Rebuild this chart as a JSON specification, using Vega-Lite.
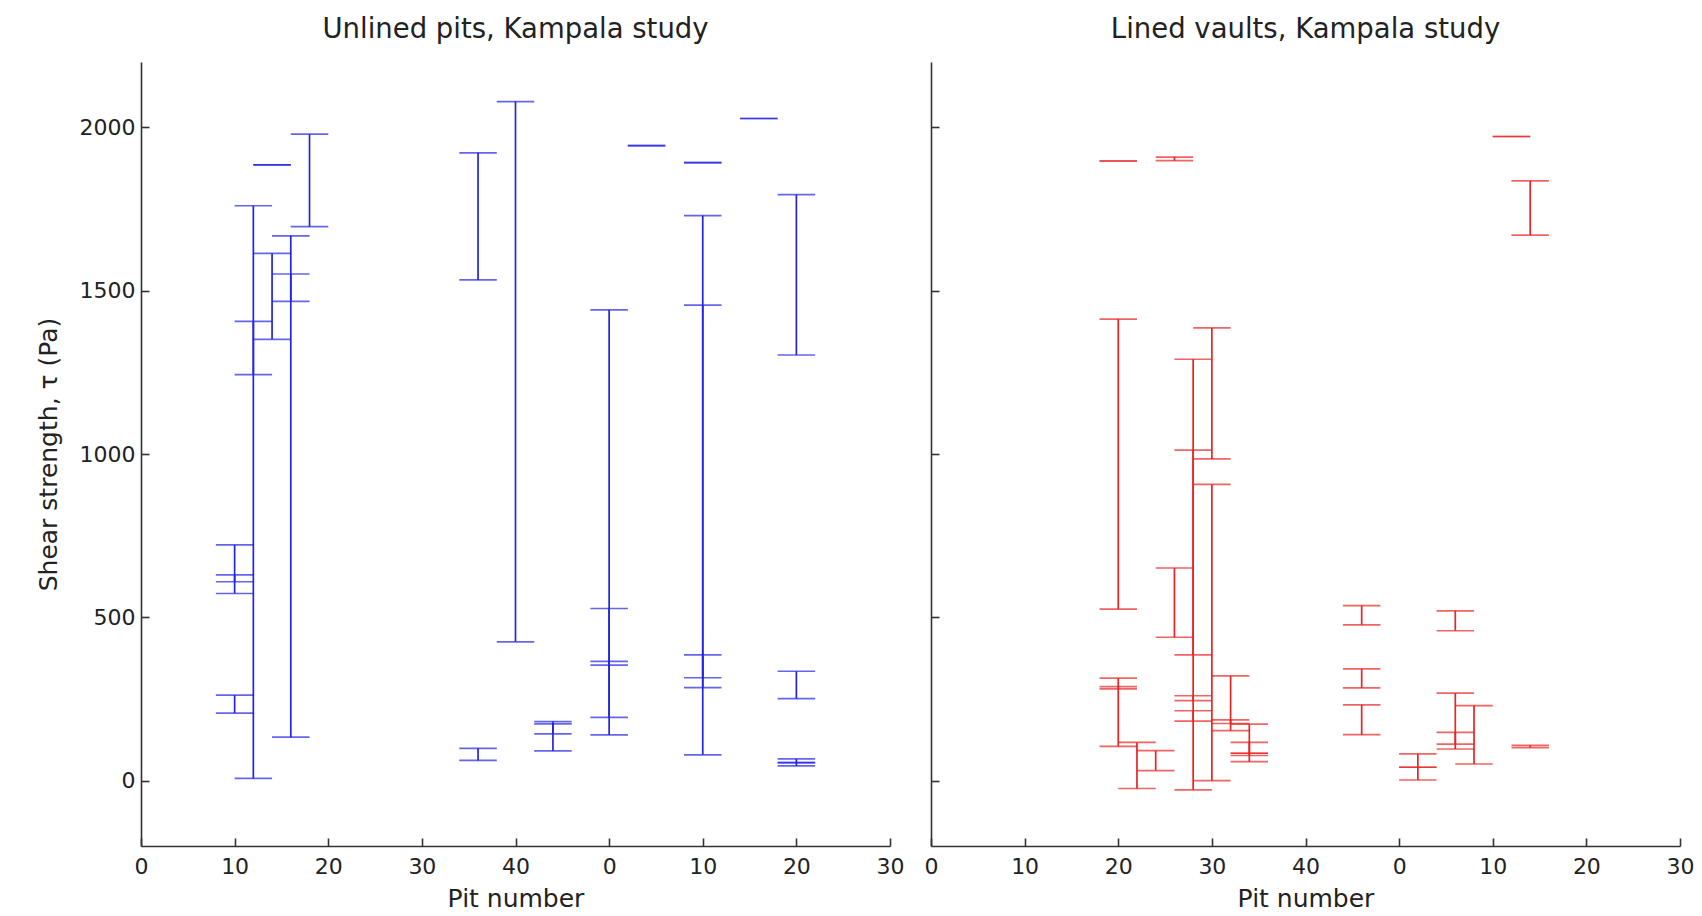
{
  "$schema": "https://vega.github.io/schema/vega-lite/v6.json",
  "autosize": {"type": "pad"},
  "padding": {"left": 36, "top": 15, "right": 10, "bottom": 0},
  "background": "white",
  "spacing": 41,
  "bounds": "flush",
  "config": {
    "view": {"stroke": null},
    "font": "DejaVu Sans",
    "axis": {
      "grid": false,
      "domainColor": "#333333",
      "domainWidth": 1.6,
      "tickColor": "#333333",
      "tickWidth": 1.6,
      "tickSize": -8,
      "labelColor": "#222222",
      "labelFont": "DejaVu Sans",
      "labelFontSize": 22,
      "titleFont": "DejaVu Sans",
      "titleFontSize": 25,
      "titleFontWeight": "normal",
      "titleColor": "#222222"
    },
    "title": {"font": "DejaVu Sans", "fontSize": 27.5, "fontWeight": "normal", "color": "#222222", "offset": 19}
  },
  "data": {
    "values": [
      {"panel": "U", "x": 10, "lo": 573, "hi": 722},
      {"panel": "U", "x": 10, "lo": 609, "hi": 630},
      {"panel": "U", "x": 10, "lo": 207, "hi": 262},
      {"panel": "U", "x": 12, "lo": 7, "hi": 1760},
      {"panel": "U", "x": 12, "lo": 1243, "hi": 1406},
      {"panel": "U", "x": 14, "lo": 1885, "hi": 1885},
      {"panel": "U", "x": 14, "lo": 1351, "hi": 1614},
      {"panel": "U", "x": 16, "lo": 133, "hi": 1668},
      {"panel": "U", "x": 16, "lo": 1467, "hi": 1551},
      {"panel": "U", "x": 18, "lo": 1696, "hi": 1979},
      {"panel": "U", "x": 36, "lo": 1533, "hi": 1922},
      {"panel": "U", "x": 36, "lo": 62, "hi": 99},
      {"panel": "U", "x": 40, "lo": 425, "hi": 2079},
      {"panel": "U", "x": 44, "lo": 91, "hi": 181},
      {"panel": "U", "x": 44, "lo": 143, "hi": 174},
      {"panel": "U", "x": 50, "lo": 140, "hi": 1441},
      {"panel": "U", "x": 50, "lo": 354, "hi": 527},
      {"panel": "U", "x": 50, "lo": 194, "hi": 365},
      {"panel": "U", "x": 54, "lo": 1944, "hi": 1944},
      {"panel": "U", "x": 60, "lo": 1892, "hi": 1892},
      {"panel": "U", "x": 60, "lo": 79, "hi": 1730},
      {"panel": "U", "x": 60, "lo": 285, "hi": 1456},
      {"panel": "U", "x": 60, "lo": 315, "hi": 385},
      {"panel": "U", "x": 66, "lo": 2027, "hi": 2027},
      {"panel": "U", "x": 70, "lo": 1303, "hi": 1794},
      {"panel": "U", "x": 70, "lo": 251, "hi": 335},
      {"panel": "U", "x": 70, "lo": 45, "hi": 67},
      {"panel": "U", "x": 70, "lo": 55, "hi": 55},
      {"panel": "L", "x": 20, "lo": 1897, "hi": 1897},
      {"panel": "L", "x": 20, "lo": 525, "hi": 1413},
      {"panel": "L", "x": 20, "lo": 105, "hi": 314},
      {"panel": "L", "x": 20, "lo": 281, "hi": 288},
      {"panel": "L", "x": 22, "lo": -24, "hi": 117},
      {"panel": "L", "x": 24, "lo": 31, "hi": 92},
      {"panel": "L", "x": 26, "lo": 1898, "hi": 1909},
      {"panel": "L", "x": 26, "lo": 439, "hi": 651},
      {"panel": "L", "x": 28, "lo": -28, "hi": 1290},
      {"panel": "L", "x": 28, "lo": 385, "hi": 1012},
      {"panel": "L", "x": 28, "lo": 245, "hi": 260},
      {"panel": "L", "x": 28, "lo": 182, "hi": 214},
      {"panel": "L", "x": 30, "lo": 985, "hi": 1386},
      {"panel": "L", "x": 30, "lo": 0, "hi": 907},
      {"panel": "L", "x": 32, "lo": 175, "hi": 321},
      {"panel": "L", "x": 32, "lo": 153, "hi": 186},
      {"panel": "L", "x": 34, "lo": 58, "hi": 173},
      {"panel": "L", "x": 34, "lo": 77, "hi": 117},
      {"panel": "L", "x": 34, "lo": 84, "hi": 84},
      {"panel": "L", "x": 46, "lo": 477, "hi": 536},
      {"panel": "L", "x": 46, "lo": 284, "hi": 342},
      {"panel": "L", "x": 46, "lo": 141, "hi": 232},
      {"panel": "L", "x": 52, "lo": 2, "hi": 82},
      {"panel": "L", "x": 52, "lo": 41, "hi": 41},
      {"panel": "L", "x": 56, "lo": 459, "hi": 520},
      {"panel": "L", "x": 56, "lo": 97, "hi": 268},
      {"panel": "L", "x": 56, "lo": 112, "hi": 148},
      {"panel": "L", "x": 58, "lo": 51, "hi": 230},
      {"panel": "L", "x": 62, "lo": 1972, "hi": 1972},
      {"panel": "L", "x": 64, "lo": 1670, "hi": 1836},
      {"panel": "L", "x": 64, "lo": 101, "hi": 108}
    ]
  },
  "hconcat": [
    {
      "width": 749,
      "height": 784,
      "title": {"text": "Unlined pits, Kampala study"},
      "transform": [{"filter": "datum.panel == 'U'"}],
      "encoding": {
        "x": {
          "field": "x", "type": "quantitative",
          "scale": {"domain": [0, 80], "nice": false, "zero": false},
          "axis": {"values": [0, 10, 20, 30, 40, 50, 60, 70, 80], "labelExpr": "'' + (datum.value >= 50 ? datum.value - 50 : datum.value)", "labelPadding": 18, "title": "Pit number", "titlePadding": 9, "labelFlush": false}
        }
      },
      "layer": [
        {
          "mark": {"type": "rule", "color": "#2424e2", "strokeWidth": 1.7},
          "encoding": {
            "y": {"field": "lo", "type": "quantitative", "scale": {"domain": [-200, 2200], "nice": false, "zero": false},
              "axis": {"values": [0, 500, 1000, 1500, 2000], "format": "d", "title": "Shear strength, τ (Pa)", "labelPadding": 14, "titlePadding": 18}},
            "y2": {"field": "hi"}
          }
        },
        {
          "mark": {"type": "tick", "orient": "horizontal", "size": 37.5, "thickness": 1.7, "color": "#2424e2"},
          "encoding": {
            "y": {"field": "lo", "type": "quantitative", "axis": {"values": [0, 500, 1000, 1500, 2000], "format": "d", "title": "Shear strength, τ (Pa)", "labelPadding": 14, "titlePadding": 18}}
          }
        },
        {
          "mark": {"type": "tick", "orient": "horizontal", "size": 37.5, "thickness": 1.7, "color": "#2424e2"},
          "encoding": {
            "y": {"field": "hi", "type": "quantitative", "axis": {"values": [0, 500, 1000, 1500, 2000], "format": "d", "title": "Shear strength, τ (Pa)", "labelPadding": 14, "titlePadding": 18}}
          }
        }
      ]
    },
    {
      "width": 749,
      "height": 784,
      "title": {"text": "Lined vaults, Kampala study"},
      "transform": [{"filter": "datum.panel == 'L'"}],
      "encoding": {
        "x": {
          "field": "x", "type": "quantitative",
          "scale": {"domain": [0, 80], "nice": false, "zero": false},
          "axis": {"values": [0, 10, 20, 30, 40, 50, 60, 70, 80], "labelExpr": "'' + (datum.value >= 50 ? datum.value - 50 : datum.value)", "labelPadding": 18, "title": "Pit number", "titlePadding": 9, "labelFlush": false}
        }
      },
      "layer": [
        {
          "mark": {"type": "rule", "color": "#e82424", "strokeWidth": 1.7},
          "encoding": {
            "y": {"field": "lo", "type": "quantitative", "scale": {"domain": [-200, 2200], "nice": false, "zero": false},
              "axis": {"values": [0, 500, 1000, 1500, 2000], "labels": false, "title": null}},
            "y2": {"field": "hi"}
          }
        },
        {
          "mark": {"type": "tick", "orient": "horizontal", "size": 37.5, "thickness": 1.7, "color": "#e82424"},
          "encoding": {
            "y": {"field": "lo", "type": "quantitative", "axis": {"values": [0, 500, 1000, 1500, 2000], "labels": false, "title": null}}
          }
        },
        {
          "mark": {"type": "tick", "orient": "horizontal", "size": 37.5, "thickness": 1.7, "color": "#e82424"},
          "encoding": {
            "y": {"field": "hi", "type": "quantitative", "axis": {"values": [0, 500, 1000, 1500, 2000], "labels": false, "title": null}}
          }
        }
      ]
    }
  ]
}
